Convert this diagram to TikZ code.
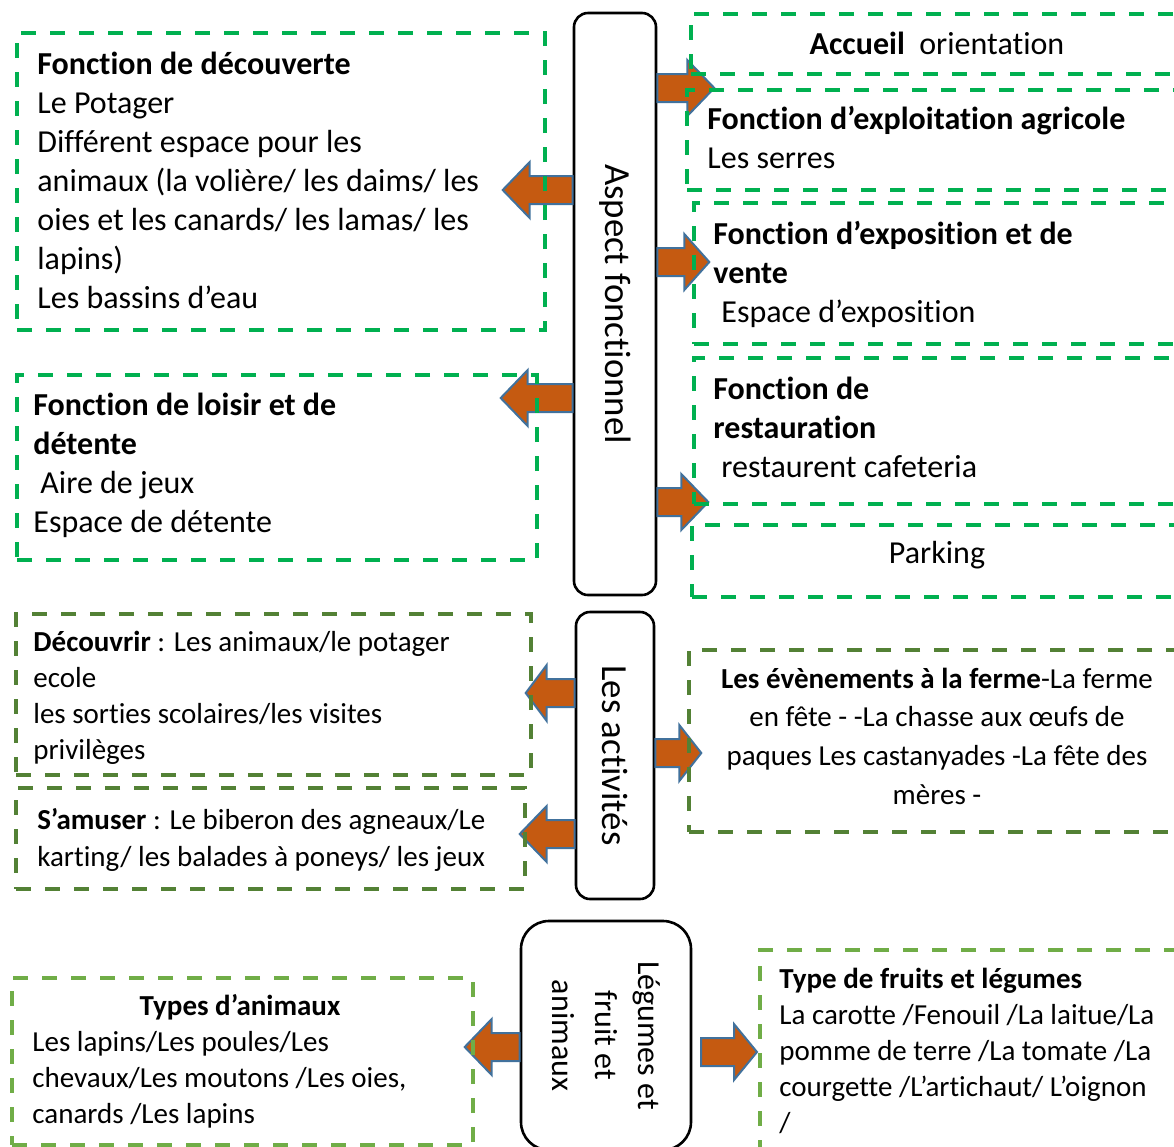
\documentclass[tikz,border=0pt]{standalone}
\usepackage{fontspec}
\setmainfont{Carlito}[Ligatures={TeX,NoCommon}]
\usepackage{xcolor}
\usetikzlibrary{calc, positioning}

\definecolor{vertvif}{HTML}{00B050}
\definecolor{vertfonce}{HTML}{538135}
\definecolor{vertclair}{HTML}{70AD47}
\definecolor{orangefleche}{HTML}{C55A11}
\definecolor{bleufleche}{HTML}{41719C}

\tikzset{
  cadre/.style={draw=black, line width=1.3pt, rounded corners=7pt, rotate=-90, inner sep=0pt, align=center, fill=white},
  boite/.style={dash pattern=on 7.5pt off 7pt, line width=2pt, anchor=north west, inner sep=0pt},
  texte/.style={anchor=base west, inner sep=0pt, align=left, font=\fontsize{16}{19.5}\selectfont},
  petittexte/.style={texte, font=\fontsize{14.5}{18}\selectfont},
  fleche/.style={fill=orangefleche, draw=bleufleche, line width=1pt, line join=miter},
}

% flèche pleine : départ, longueur du corps, longueur de la tête
\newcommand{\flechebloc}[3]{%
  \draw[fleche] (#1) ++(0,-14) -- ++(#2,0) -- ++(0,-14) -- ++(#3,28) -- ++({-(#3)},28) -- ++(0,-14) -- ++({-(#2)},0) -- cycle;}

\begin{document}
\begin{tikzpicture}[x=0.5pt, y=-0.5pt]
    \useasboundingbox (0,0) rectangle (1174,1147);

    % 1. Les trois cadres centraux
    \node[cadre, minimum width=291pt, minimum height=41pt, font=\fontsize{18.4}{22}\selectfont] (aspect) at (615,304) {Aspect fonctionnel};
    \node[cadre, minimum width=143.5pt, minimum height=39pt, font=\fontsize{18.4}{22}\selectfont] (activites) at (615,755.5) {Les activités};
    \node[cadre, rounded corners=14pt, minimum width=114.5pt, minimum height=85pt, font=\fontsize{16}{21.5}\selectfont] (legumes) at (606,1035.5) {Légumes et\\fruit et\\animaux};

    % 2. Les flèches
    \flechebloc{aspect.south |- 0,190}{-43}{-27}
    \flechebloc{aspect.south |- 0,398}{-45}{-27}
    \flechebloc{aspect.north |- 0,88}{30}{27}
    \flechebloc{aspect.north |- 0,262}{27}{25}
    \flechebloc{aspect.north |- 0,502}{24}{27}
    \flechebloc{activites.south |- 0,693}{-28}{-21}
    \flechebloc{activites.south |- 0,834}{-28}{-27}
    \flechebloc{activites.north |- 0,753}{24}{22}
    \flechebloc{legumes.south |- 0,1047}{-28}{-27}
    \coordinate (depart) at (701,1052);
    \flechebloc{depart}{33}{23}

    % 3. Aspect fonctionnel : les boites (texte placé par sa dernière ligne)
    \node[boite, draw=vertvif, minimum width=264pt, minimum height=148.5pt] (decouverte) at (15,31) {};
    \node[boite, draw=vertvif, minimum width=260pt, minimum height=92.5pt] (loisir) at (15,373) {};
    \node[boite, draw=vertvif, minimum width=250.5pt, minimum height=30pt] (accueil) at (689,12) {};
    \node[boite, draw=vertvif, minimum width=252.5pt, minimum height=50pt] (exploitation) at (685,88) {};
    \node[boite, draw=vertvif, minimum width=249pt, minimum height=70.5pt] (exposition) at (692,201) {};
    \node[boite, draw=vertvif, minimum width=249pt, minimum height=73pt] (restauration) at (692,356) {};
    \node[boite, draw=vertvif, minimum width=250pt, minimum height=36pt] (parking) at (690,523) {};

    \node[texte] (t-decouverte) at (37,308) {\textbf{Fonction de découverte}\\Le Potager\\Différent espace pour les\\animaux (la volière/ les daims/ les\\oies et les canards/ les lamas/ les\\lapins)\\Les bassins d’eau};
    \node[texte] (t-loisir) at (33,532) {\textbf{Fonction de loisir et de}\\\textbf{détente}\\\hspace*{3.5pt}Aire de jeux\\Espace de détente};
    \node[texte, anchor=base] (t-accueil) at (937,54) {\textbf{Accueil }\ orientation};
    \node[texte] (t-exploitation) at (707,168) {\textbf{Fonction d’exploitation agricole}\\Les serres};
    \node[texte] (t-exposition) at (713,322) {\textbf{Fonction d’exposition et de}\\\textbf{vente}\\\hspace*{4pt}Espace d’exposition};
    \node[texte] (t-restauration) at (713,477) {\textbf{Fonction de}\\\textbf{restauration}\\\hspace*{4pt}restaurent cafeteria};
    \node[texte, anchor=base] (t-parking) at (937,563) {Parking};

    % 4. Les activités
    \node[boite, draw=vertfonce, minimum width=257.5pt, minimum height=80.5pt] (decouvrir) at (14,612) {};
    \node[boite, draw=vertfonce, minimum width=254.5pt, minimum height=50.5pt] (amuser) at (14,786) {};
    \node[boite, draw=vertfonce, minimum width=251.5pt, minimum height=91pt] (evenements) at (687,648) {};

    \node[petittexte] (t-decouvrir) at (33,759) {\textbf{Découvrir} : Les animaux/le potager\\ecole\\les sorties scolaires/les visites\\privilèges};
    \node[petittexte, font=\fontsize{14.5}{18.5}\selectfont] (t-amuser) at (37,866) {\textbf{S’amuser} : Le biberon des agneaux/Le\\karting/ les balades à poneys/ les jeux};
    \node[petittexte, anchor=base, align=center, font=\fontsize{14.5}{19.3}\selectfont] (t-evenements) at (937,804) {\textbf{Les évènements à la ferme}-La ferme\\en fête - -La chasse aux œufs de\\paques Les castanyades -La fête des\\mères -};

    % 5. Légumes, fruits et animaux
    \node[boite, draw=vertclair, minimum width=230.5pt, minimum height=83.5pt] (animaux) at (10,976) {};
    \node[boite, draw=vertclair, minimum width=216pt, minimum height=111pt] (fruits) at (758,948) {};

    \node[petittexte, anchor=base] (t-titreanimaux) at (240,1015) {\textbf{Types d’animaux}};
    \node[petittexte] (t-animaux) at (32,1123) {Les lapins/Les poules/Les\\chevaux/Les moutons /Les oies,\\canards /Les lapins};
    \node[petittexte] (t-fruits) at (779,1132) {\textbf{Type de fruits et légumes}\\La carotte /Fenouil /La laitue/La\\pomme de terre /La tomate /La\\courgette /L’artichaut/ L’oignon\\/};
\end{tikzpicture}
\end{document}
